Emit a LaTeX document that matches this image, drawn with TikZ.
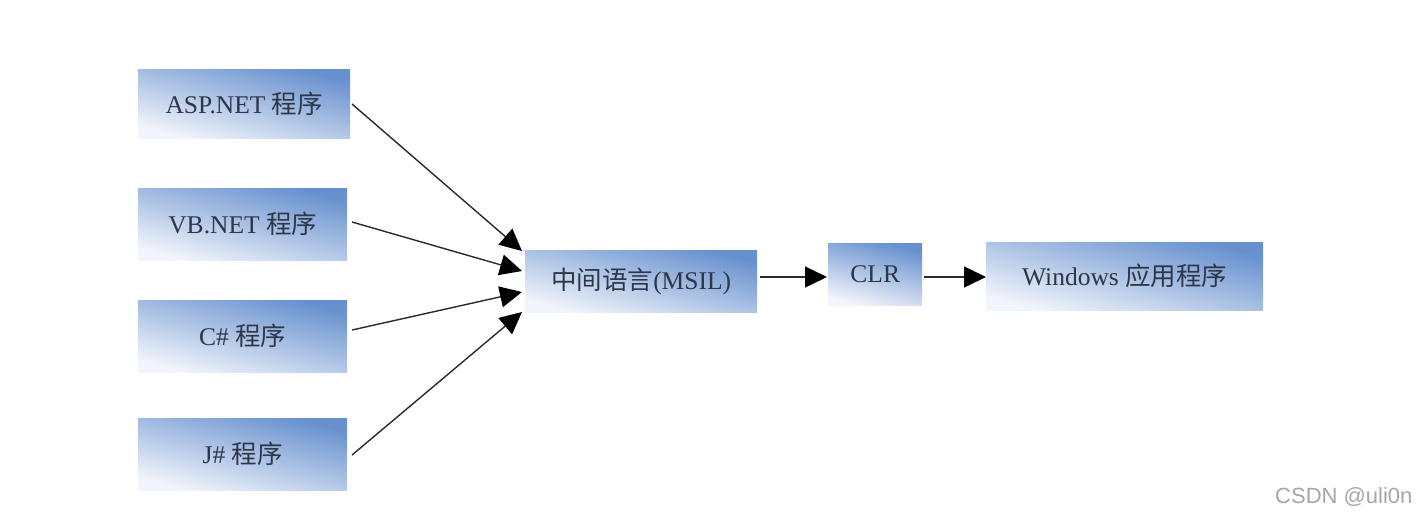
\documentclass[tikz,border=0pt]{standalone}
\usepackage{fontspec}
\setmainfont{Liberation Serif}
\newfontfamily\cjk{Noto Sans CJK SC}
\newfontfamily\wm{Liberation Sans}
\usetikzlibrary{arrows.meta}
\definecolor{boxblue}{HTML}{6690CE}
\definecolor{boxlight}{HTML}{F2F5FB}
\definecolor{txt}{HTML}{2E3648}
\definecolor{ln}{HTML}{2A2A2A}
\tikzset{
  box/.style={draw=none, top color=boxblue, bottom color=boxlight, shading angle=-15,
    font=\fontsize{25.5}{28}\selectfont, text=txt, inner sep=0pt, anchor=north west},
  conn/.style={ln, line width=1.4pt, -{Triangle[length=22pt,width=21pt,color=black]}},
}
\begin{document}
\begin{tikzpicture}[x=1pt,y=-1pt]
\useasboundingbox[fill=white] (0,0) rectangle (1421,522);
\node[box, minimum width=212pt, minimum height=69pt] (asp) at (138,69) {ASP.NET {\cjk 程序}};
\node[box, minimum width=209pt, minimum height=72pt] (vb) at (138,188) {VB.NET {\cjk 程序}};
\node[box, minimum width=209pt, minimum height=72pt] (cs) at (138,300) {C\# {\cjk 程序}};
\node[box, minimum width=209pt, minimum height=72pt] (js) at (138,418) {J\# {\cjk 程序}};
\node[box, minimum width=232pt, minimum height=62pt] (msil) at (525,250) {{\cjk 中间语言}(MSIL)};
\node[box, minimum width=94pt, minimum height=62pt] (clr) at (828,243) {CLR};
\node[box, minimum width=277pt, minimum height=68pt] (win) at (986,242) {Windows {\cjk 应用程序}};
\coordinate (m1) at (522,251);
\coordinate (m2) at (522,271);
\coordinate (m3) at (522,292);
\coordinate (m4) at (522,312);
\coordinate (a1) at (352,104);
\coordinate (a2) at (352,222);
\coordinate (a3) at (352,330);
\coordinate (a4) at (352,455);
\coordinate (ms) at (760,277);
\coordinate (c1) at (827,277);
\coordinate (c2) at (924,277);
\coordinate (w1) at (986,277);
\draw[conn] (a1) -- (m1);
\draw[conn] (a2) -- (m2);
\draw[conn] (a3) -- (m3);
\draw[conn] (a4) -- (m4);
\draw[conn] (ms) -- (c1);
\draw[conn] (c2) -- (w1);
\node[font=\wm\fontsize{22}{24}\selectfont, text=black!35, anchor=east] (wm) at (1416,497) {CSDN @uli0n};
\end{tikzpicture}
\end{document}
